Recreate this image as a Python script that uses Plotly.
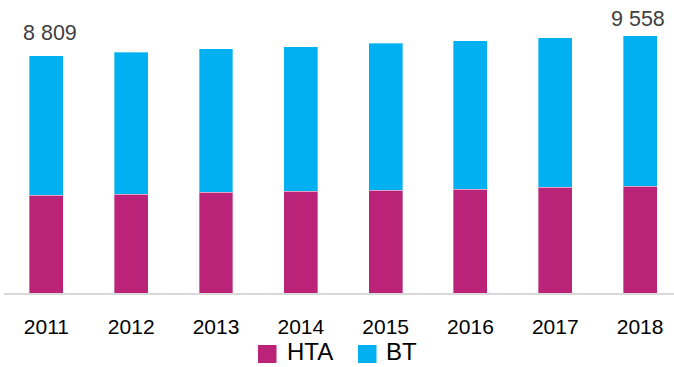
import plotly.graph_objects as go

# Annual volumes split by tension level
years = ["2011", "2012", "2013", "2014", "2015", "2016", "2017", "2018"]
hta = [3623, 3660, 3734, 3771, 3808, 3860, 3920, 3957]
bt = [5186, 5284, 5333, 5371, 5470, 5503, 5555, 5601]
totals = [h + b for h, b in zip(hta, bt)]

# Only the first and last totals are labelled
labelled = {0: "8 809", 7: "9 558"}

FONT = "Liberation Sans, Arial, sans-serif"
MAGENTA = "#BA2378"
CYAN = "#00B0F0"
EDGE = dict(color="rgba(255,255,255,0.35)", width=1)

fig = go.Figure()
fig.add_trace(go.Bar(x=years, y=hta, name="HTA", marker_color=MAGENTA,
                     width=0.4, marker_line=EDGE, showlegend=False))
fig.add_trace(go.Bar(x=years, y=bt, name="BT", marker_color=CYAN,
                     width=0.4, marker_line=EDGE, showlegend=False))

# Total labels above the first and last bars
label_shift = {0: (4, 23), 7: (-2, 17)}
for i, txt in labelled.items():
    dx, dy = label_shift[i]
    fig.add_annotation(
        x=i, y=totals[i], text=txt, showarrow=False,
        yanchor="middle", xshift=dx, yshift=dy,
        font=dict(family=FONT, size=21.5, color="#404040"),
    )

# Legend drawn as coloured squares with labels below the axis
W, H, L, B = 670, 293, 4, 74
def px_x(p):
    return (p - L) / W
def px_y(p):
    return (H - p) / H

legend_items = [("HTA", MAGENTA, 258, 285), ("BT", CYAN, 358, 384)]
for name, color, sq_left, text_left in legend_items:
    fig.add_shape(
        type="rect", xref="paper", yref="paper",
        x0=px_x(sq_left), x1=px_x(sq_left + 18.5),
        y0=px_y(345), y1=px_y(363),
        fillcolor=color, line_width=0, layer="above",
    )
    fig.add_annotation(
        xref="paper", yref="paper", x=px_x(text_left), y=px_y(351.5),
        text=name, showarrow=False, xanchor="left", yanchor="middle",
        font=dict(family=FONT, size=24, color="#000000"),
    )

fig.update_layout(
    width=674, height=367,
    barmode="stack",
    plot_bgcolor="white", paper_bgcolor="white",
    margin=dict(l=L, r=0, t=0, b=B, autoexpand=False),
    showlegend=False,
    xaxis=dict(
        type="category", range=[-0.5, 7.4], automargin=False,
        showline=True, linecolor="#D9D9D9", linewidth=2,
        showgrid=False, ticks="", zeroline=False, ticklabelstandoff=14,
        tickfont=dict(family=FONT, size=21, color="#000000"),
    ),
    yaxis=dict(
        range=[0, 10876], visible=False, showgrid=False, zeroline=False,
        automargin=False,
    ),
)

fig.write_html("out.html")
